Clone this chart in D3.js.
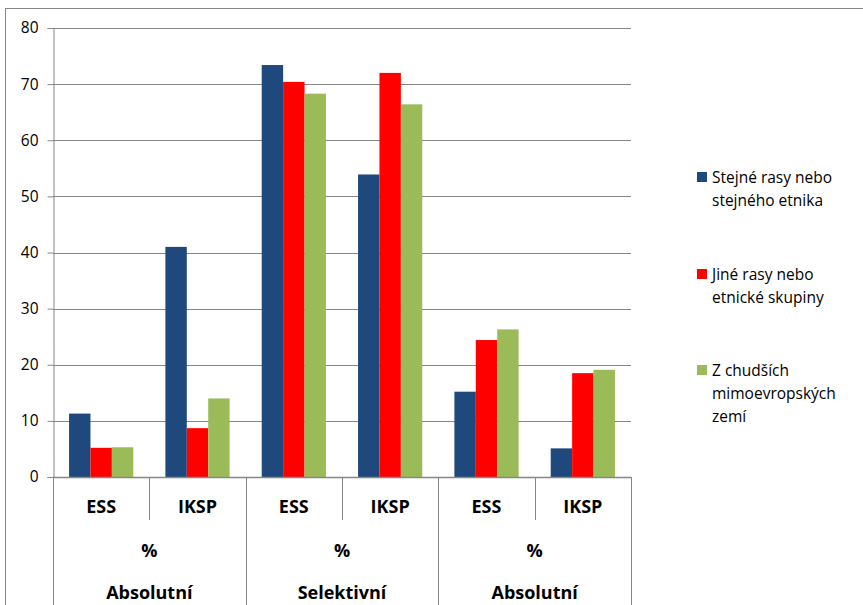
<!DOCTYPE html>
<html>
<head>
<meta charset="utf-8">
<script src="https://cdn.jsdelivr.net/npm/d3@7"></script>
<style>
  body { margin: 0; background: #fff; }
  text { font-family: "Open Sans", "Noto Sans", sans-serif; fill: #000; }
</style>
</head>
<body>
<div id="chart"></div>
<script>
// data
var categories = ["ESS", "IKSP", "ESS", "IKSP", "ESS", "IKSP"];
var groups = ["Absolutní", "Selektivní", "Absolutní"];
var unitLabel = "%";
var seriesNames = ["Stejné rasy nebo stejného etnika", "Jiné rasy nebo etnické skupiny", "Z chudších mimoevropských zemí"];
var legendLines = [["Stejné rasy nebo", "stejného etnika"], ["Jiné rasy nebo", "etnické skupiny"], ["Z chudších", "mimoevropských", "zemí"]];
var sameRace = [11.3, 41.0, 73.4, 53.9, 15.2, 5.1];
var otherRace = [5.2, 8.7, 70.4, 72.0, 24.4, 18.5];
var poorerCountries = [5.3, 14.0, 68.3, 66.4, 26.3, 19.1];
var yTicks = [0, 10, 20, 30, 40, 50, 60, 70, 80];
var colors = ["#1F497D", "#FF0000", "#9BBB59"];

var seriesValues = [sameRace, otherRace, poorerCountries];

var width = 863, height = 605;
var margin = { top: 28, left: 53, right: 232, bottom: 128 };
var plotW = width - margin.left - margin.right;
var plotH = height - margin.top - margin.bottom;

var svg = d3.select("#chart").append("svg")
    .attr("width", width)
    .attr("height", height);

// outer chart border
svg.append("rect")
    .attr("x", 5.5).attr("y", 8.5)
    .attr("width", width).attr("height", height)
    .attr("fill", "none")
    .attr("stroke", "#868686");

var g = svg.append("g")
    .attr("transform", "translate(" + margin.left + "," + margin.top + ")");

var y = d3.scaleLinear().domain([0, 80]).range([plotH, 0]);
var x0 = d3.scaleBand().domain(d3.range(categories.length)).range([0, plotW]);
// gap width 150% like the office chart
var x1 = d3.scaleBand().domain(d3.range(3)).range([0, x0.bandwidth()]).paddingOuter(0.75).paddingInner(0);

// gridlines
g.append("g")
    .selectAll("line")
    .data(yTicks.filter(function(d) { return d > 0; }))
    .enter().append("line")
    .attr("x1", 0).attr("x2", plotW)
    .attr("y1", function(d) { return Math.round(y(d)) + 0.5; })
    .attr("y2", function(d) { return Math.round(y(d)) + 0.5; })
    .attr("stroke", "#868686");

// bars
var cat = g.append("g").selectAll("g")
    .data(categories)
    .enter().append("g")
    .attr("transform", function(d, i) { return "translate(" + x0(i) + ",0)"; });

cat.selectAll("rect")
    .data(function(d, i) { return seriesValues.map(function(s, k) { return { k: k, v: s[i] }; }); })
    .enter().append("rect")
    .attr("x", function(d) { return x1(d.k); })
    .attr("width", x1.bandwidth())
    .attr("y", function(d) { return y(d.v); })
    .attr("height", function(d) { return plotH - y(d.v); })
    .attr("fill", function(d) { return colors[d.k]; });

// y axis
var yAxis = g.append("g")
    .attr("transform", "translate(0.5,0)")
    .call(d3.axisLeft(y).tickValues(yTicks).tickSize(6).tickPadding(9));
yAxis.select(".domain").attr("stroke", "#868686");
yAxis.selectAll(".tick line").attr("stroke", "#868686");
yAxis.selectAll(".tick text")
    .style("font-size", "15.5px")
    .style("font-family", "'Open Sans', 'Noto Sans', sans-serif");

// x axis baseline
g.append("line")
    .attr("x1", 0).attr("x2", plotW)
    .attr("y1", plotH + 0.5).attr("y2", plotH + 0.5)
    .attr("stroke", "#868686").attr("stroke-width", 1.5);

// separators: short ones inside groups, long ones between groups
d3.range(categories.length + 1).forEach(function(i) {
    var xx = Math.round(i === categories.length ? plotW : x0(i)) + 0.5;
    var isGroupEdge = i % 2 === 0;
    g.append("line")
        .attr("x1", xx).attr("x2", xx)
        .attr("y1", plotH)
        .attr("y2", isGroupEdge ? height : plotH + 43)
        .attr("stroke", "#868686");
});

// category labels
g.selectAll(".cat-label")
    .data(categories)
    .enter().append("text")
    .attr("class", "cat-label")
    .attr("x", function(d, i) { return x0(i) + x0.bandwidth() / 2; })
    .attr("y", plotH + 36)
    .attr("text-anchor", "middle")
    .style("font-size", "18px")
    .style("font-weight", "bold")
    .text(function(d) { return d; });

// % and group labels
groups.forEach(function(name, j) {
    var cx = x0(j * 2) + x0.bandwidth();
    g.append("text")
        .attr("x", cx).attr("y", plotH + 80)
        .attr("text-anchor", "middle")
        .style("font-size", "18px").style("font-weight", "bold")
        .text(unitLabel);
    g.append("text")
        .attr("x", cx).attr("y", plotH + 122)
        .attr("text-anchor", "middle")
        .style("font-size", "18px").style("font-weight", "bold")
        .text(name);
});

// legend
var legendTops = [177, 274, 370];
var legend = svg.append("g").selectAll("g")
    .data(seriesNames)
    .enter().append("g")
    .attr("transform", function(d, i) { return "translate(697," + legendTops[i] + ")"; });

legend.append("rect")
    .attr("x", 0).attr("y", -5)
    .attr("width", 10).attr("height", 10)
    .attr("fill", function(d, i) { return colors[i]; });

legend.append("text")
    .attr("x", 15).attr("y", 6)
    .style("font-size", "15.5px")
    .selectAll("tspan")
    .data(function(d, i) { return legendLines[i]; })
    .enter().append("tspan")
    .attr("x", 15)
    .attr("dy", function(d, i) { return i === 0 ? 0 : 23; })
    .text(function(d) { return d; });
</script>
</body>
</html>
